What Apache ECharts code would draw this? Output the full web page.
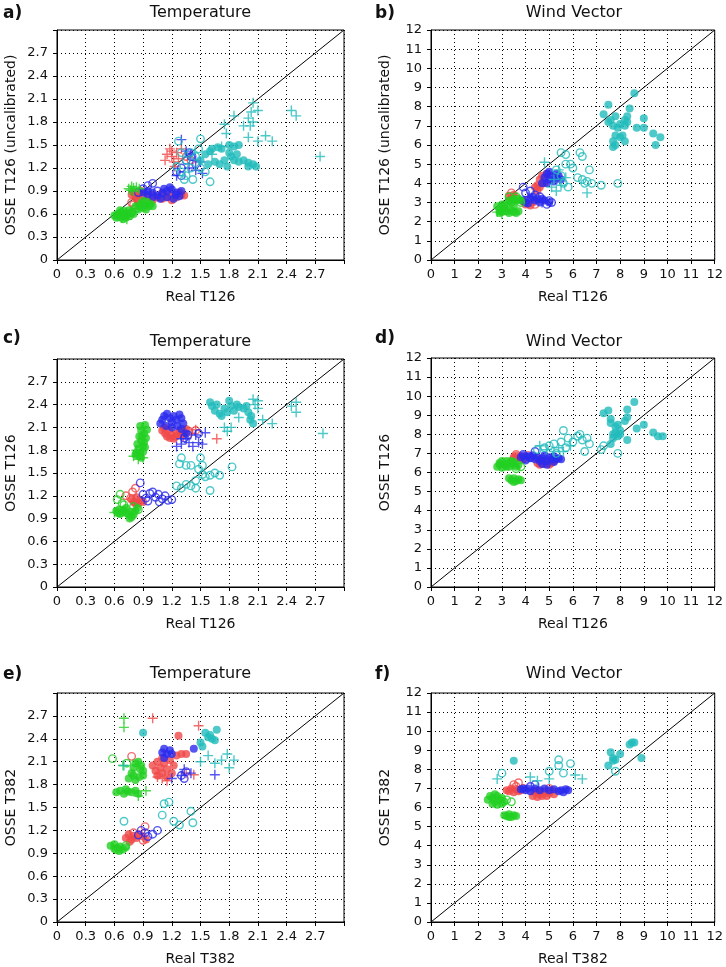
<!DOCTYPE html>
<html>
<head>
<meta charset="utf-8">
<script src="https://cdn.jsdelivr.net/npm/echarts@6/dist/echarts.min.js"></script>
<style>
html,body{margin:0;padding:0;background:#fff;}
#chart{width:726px;height:967px;}
</style>
</head>
<body>
<div id="chart"></div>
<script>
// ---------- tick / axis data ----------
const TEMP_RANGE = [0, 3];
const TEMP_STEP = 0.3;
const WIND_RANGE = [0, 12];
const WIND_STEP = 1;
const DIAG_TEMP = [[0, 0], [3, 3]];
const DIAG_WIND = [[0, 0], [12, 12]];
const PANEL_LETTERS = ['a)', 'b)', 'c)', 'd)', 'e)', 'f)'];
const PANEL_TITLES = ['Temperature', 'Wind Vector', 'Temperature', 'Wind Vector', 'Temperature', 'Wind Vector'];
const X_NAMES = ['Real T126', 'Real T126', 'Real T126', 'Real T126', 'Real T382', 'Real T382'];
const Y_NAMES = ['OSSE T126 (uncalibrated)', 'OSSE T126 (uncalibrated)', 'OSSE T126', 'OSSE T126', 'OSSE T382', 'OSSE T382'];

// ---------- panel a ----------
const a_red_dot = [[0.78,0.85],[0.8,0.88],[0.82,0.82],[0.85,0.85],[0.9,0.83],[0.95,0.82],[1.0,0.85],[1.05,0.82],[1.1,0.8],[1.15,0.82],[1.2,0.78],[1.25,0.82],[1.3,0.85],[1.33,0.84],[1.28,0.88],[1.1,0.88],[0.88,0.9],[0.84,0.78],[1.18,0.86],[1.0,0.78]];
const a_red_open = [[0.78,0.75],[0.8,0.72],[0.85,0.8],[1.4,1.3],[1.35,1.35]];
const a_red_plus = [[1.13,1.3],[1.15,1.38],[1.18,1.45],[1.2,1.35],[1.22,1.28],[1.25,1.4],[1.27,1.32],[1.2,1.42],[1.3,1.45],[1.23,1.22]];
const a_blue_dot = [[0.9,0.88],[0.95,0.85],[1.0,0.88],[1.05,0.84],[1.1,0.87],[1.15,0.9],[1.2,0.92],[1.25,0.88],[1.28,0.83],[1.22,0.8],[1.15,0.82],[1.08,0.8],[1.0,0.82],[1.18,0.95],[1.3,0.9],[0.95,0.9],[1.12,0.93],[1.24,0.85]];
const a_blue_open = [[0.85,0.88],[0.9,0.93],[0.95,0.97],[1.0,1.0],[1.05,0.9],[1.25,1.15],[1.3,1.2],[1.35,1.3],[1.4,1.35],[1.45,1.25],[1.38,1.4],[1.3,1.1]];
const a_blue_plus = [[1.3,1.57],[1.35,1.42],[1.4,1.38],[1.45,1.3],[1.52,1.13],[1.45,1.17],[1.25,1.1],[1.38,1.2],[1.5,1.28]];
const a_green_dot = [[0.6,0.58],[0.63,0.6],[0.65,0.56],[0.67,0.62],[0.7,0.58],[0.72,0.55],[0.74,0.6],[0.76,0.57],[0.78,0.62],[0.66,0.65],[0.7,0.64],[0.62,0.55],[0.75,0.65],[0.8,0.6],[0.69,0.53],[0.86,0.7],[0.88,0.74],[0.9,0.68],[0.92,0.72],[0.94,0.76],[0.96,0.7],[0.98,0.73],[0.9,0.77],[0.85,0.66],[0.93,0.66],[1.0,0.7],[0.82,0.7]];
const a_green_open = [[0.78,0.62],[0.82,0.67],[0.72,0.6]];
const a_green_plus = [[0.75,0.93],[0.78,0.96],[0.8,0.94],[0.83,0.95],[0.86,0.93],[0.8,0.9],[0.77,0.91],[0.68,0.55],[0.73,0.53]];
const a_cyan_dot = [[1.5,1.3],[1.55,1.38],[1.6,1.42],[1.62,1.45],[1.68,1.47],[1.72,1.45],[1.8,1.5],[1.85,1.48],[1.9,1.5],[1.8,1.4],[1.82,1.35],[1.85,1.3],[1.9,1.28],[1.95,1.3],[2.0,1.27],[2.05,1.25],[2.08,1.22],[1.75,1.3],[1.7,1.25],[1.65,1.28],[1.58,1.25],[1.88,1.38],[2.0,1.22],[1.78,1.22]];
const a_cyan_open = [[1.27,1.55],[1.3,1.4],[1.35,1.3],[1.3,1.15],[1.35,1.1],[1.4,1.2],[1.42,1.05],[1.5,1.58],[1.45,1.35],[1.5,1.2],[1.55,1.15],[1.6,1.02],[1.33,1.05],[1.25,1.22],[1.48,1.45],[1.4,1.4]];
const a_cyan_plus = [[1.72,1.48],[1.75,1.77],[1.77,1.65],[1.85,1.88],[1.95,1.75],[2.05,2.05],[2.03,1.93],[2.1,1.95],[2.0,1.85],[2.02,1.75],[2.0,1.6],[2.1,1.55],[2.18,1.62],[2.25,1.55],[2.45,1.95],[2.5,1.88],[2.75,1.35],[2.05,1.8],[1.62,1.38]];

// ---------- panel b ----------
const b_red_dot = [[3.3,3.35],[3.5,3.4],[3.4,3.2],[4.5,3.6],[4.5,3.9],[4.6,4.2],[4.7,4.4],[4.8,4.0],[4.6,3.8],[4.0,2.9],[4.2,2.85],[4.3,3.0],[3.9,3.05],[4.9,4.5],[4.4,3.8]];
const b_red_open = [[3.4,3.5],[3.6,3.2],[4.1,3.1],[4.4,2.9]];
const b_red_plus = [];
const b_blue_dot = [[4.7,4.0],[4.8,4.3],[4.9,4.5],[5.0,4.2],[5.1,4.4],[5.2,4.1],[5.3,4.3],[5.4,4.4],[5.5,4.2],[4.9,4.0],[5.0,4.6],[5.3,4.5],[3.9,3.1],[4.0,3.0],[4.2,3.2],[4.4,3.1],[4.5,3.2],[4.6,3.0],[4.8,3.1],[4.3,3.3],[4.1,2.95],[4.7,3.2],[5.0,3.0]];
const b_blue_open = [[3.9,3.8],[4.0,3.5],[4.2,3.6],[4.4,3.4],[5.0,3.1],[4.9,2.9],[5.1,3.0],[4.6,3.3]];
const b_blue_plus = [[4.1,3.3],[4.7,3.0]];
const b_green_dot = [[2.8,2.8],[2.9,2.6],[3.0,2.5],[3.1,2.7],[3.2,2.55],[3.3,2.45],[3.4,2.6],[3.5,2.5],[3.6,2.45],[3.7,2.55],[2.9,2.45],[3.0,2.9],[3.2,2.9],[3.4,3.0],[3.5,3.2],[3.6,3.1],[3.7,3.2],[3.8,3.1],[3.3,3.1],[3.5,2.8],[3.1,2.8]];
const b_green_open = [[3.3,3.3],[3.6,3.3],[3.8,3.0]];
const b_green_plus = [[2.8,2.5],[3.0,2.4]];
const b_cyan_dot = [[7.5,8.1],[7.3,7.6],[7.6,7.3],[7.7,7.0],[7.9,6.9],[7.8,6.5],[7.7,6.2],[7.7,5.9],[7.8,6.0],[8.0,6.4],[8.2,6.2],[8.1,6.5],[7.8,7.5],[8.0,7.1],[8.2,7.3],[8.3,7.5],[8.4,7.9],[8.3,7.2],[8.6,8.7],[8.7,6.9],[9.0,7.4],[9.0,6.9],[9.4,6.6],[9.5,6.0],[9.7,6.4],[8.2,7.0],[7.5,7.2]];
const b_cyan_open = [[5.5,5.6],[5.7,5.5],[5.7,5.0],[5.9,5.0],[6.0,4.8],[6.3,5.6],[6.4,5.4],[6.2,4.3],[6.5,4.0],[6.6,4.1],[6.7,4.7],[6.8,4.0],[7.2,3.9],[7.9,4.0],[5.3,4.7],[5.5,4.4],[5.6,4.0],[5.8,3.8],[6.4,4.2]];
const b_cyan_plus = [[4.8,5.1],[5.4,4.7],[5.5,3.9],[5.1,3.8],[5.3,3.6],[6.6,3.5],[5.7,4.3],[5.2,4.2]];

// ---------- panel c ----------
const c_red_dot = [[1.1,2.06],[1.13,2.02],[1.15,1.98],[1.18,1.96],[1.2,2.0],[1.22,1.95],[1.25,2.02],[1.28,2.05],[1.3,2.0],[1.33,2.04],[1.12,2.1],[1.17,2.07],[1.24,1.98],[1.35,2.08],[0.78,1.15],[0.8,1.12],[0.83,1.18],[0.85,1.1],[0.87,1.14],[0.9,1.12],[0.82,1.1]];
const c_red_open = [[0.72,1.2],[0.79,1.25],[0.82,1.3],[0.77,1.17],[1.38,2.05],[1.45,2.06]];
const c_red_plus = [[1.67,1.95],[1.45,2.07],[1.4,2.02],[1.32,1.98]];
const c_blue_dot = [[1.08,2.15],[1.1,2.2],[1.12,2.25],[1.15,2.28],[1.18,2.22],[1.2,2.17],[1.22,2.25],[1.25,2.2],[1.28,2.27],[1.3,2.22],[1.32,2.15],[1.14,2.12],[1.26,2.12],[1.2,2.1],[1.3,2.08],[1.35,2.02]];
const c_blue_open = [[0.87,1.37],[0.9,1.22],[0.93,1.17],[0.97,1.23],[1.0,1.25],[1.03,1.18],[1.06,1.22],[1.1,1.16],[1.13,1.2],[1.16,1.14],[1.2,1.15],[0.95,1.13],[1.07,1.12],[1.37,2.0],[1.48,2.02],[1.33,1.96]];
const c_blue_plus = [[1.25,1.85],[1.3,1.88],[1.35,1.95],[1.42,1.85],[1.48,1.9],[1.52,1.88],[1.45,2.0],[1.55,2.03],[1.38,1.9],[1.3,1.95]];
const c_green_dot = [[0.87,2.12],[0.92,2.13],[0.88,2.06],[0.91,2.02],[0.86,1.98],[0.93,1.96],[0.88,1.92],[0.9,1.86],[0.85,1.82],[0.87,1.77],[0.82,1.74],[0.86,1.72],[0.9,1.78],[0.94,2.07],[0.91,1.9],[0.84,1.88],[0.89,1.98],[0.83,1.76],[0.92,1.84],[0.88,1.7],[0.62,1.0],[0.65,1.02],[0.68,0.98],[0.7,1.01],[0.73,0.97],[0.75,0.95],[0.78,0.92],[0.8,0.95],[0.82,1.0],[0.66,0.96],[0.72,1.04],[0.77,0.99],[0.64,0.97],[0.76,0.9],[0.84,1.04]];
const c_green_open = [[0.66,1.22],[0.63,1.15],[0.68,1.1],[0.8,1.06],[0.85,1.02],[0.7,1.08]];
const c_green_plus = [[0.8,1.72],[0.85,1.68],[0.9,1.7],[0.83,1.8],[0.6,0.98]];
const c_cyan_dot = [[1.6,2.43],[1.62,2.38],[1.65,2.32],[1.7,2.28],[1.75,2.35],[1.8,2.45],[1.82,2.38],[1.85,2.32],[1.9,2.37],[1.95,2.35],[2.0,2.3],[2.02,2.2],[2.05,2.15],[1.72,2.25],[1.88,2.4],[1.67,2.4],[1.78,2.3],[1.98,2.38],[2.03,2.25]];
const c_cyan_open = [[1.3,1.7],[1.28,1.62],[1.35,1.6],[1.4,1.6],[1.5,1.7],[1.52,1.6],[1.48,1.55],[1.52,1.48],[1.55,1.45],[1.6,1.47],[1.65,1.5],[1.7,1.47],[1.83,1.58],[1.45,1.4],[1.35,1.35],[1.4,1.33],[1.25,1.33],[1.3,1.3],[1.6,1.27],[1.45,1.3]];
const c_cyan_plus = [[1.75,2.1],[1.78,2.05],[1.82,2.1],[1.9,2.23],[2.05,2.47],[2.1,2.45],[2.1,2.35],[2.15,2.2],[2.25,2.15],[2.45,2.38],[2.5,2.43],[2.5,2.3],[2.78,2.02],[2.07,2.4]];

// ---------- panel d ----------
const d_red_dot = [[3.5,6.8],[3.6,6.9],[3.7,6.75],[3.8,6.85],[3.9,6.7],[4.5,6.5],[4.6,6.4],[4.7,6.6],[4.8,6.45],[4.9,6.55],[5.0,6.4],[5.1,6.5],[5.2,6.6],[4.6,6.7]];
const d_red_open = [[3.6,6.95],[3.8,6.75],[3.5,6.7],[4.1,6.9]];
const d_red_plus = [];
const d_blue_dot = [[3.8,6.8],[3.9,6.9],[4.0,6.7],[4.1,6.85],[4.2,6.75],[4.3,6.9],[4.4,6.7],[4.5,6.8],[4.6,6.6],[4.7,6.75],[4.8,6.9],[4.9,6.6],[5.0,6.8],[5.1,6.7],[5.2,6.85],[5.3,6.7],[5.4,6.75],[5.5,6.7],[4.7,6.45],[4.9,6.4],[5.2,6.55]];
const d_blue_open = [[4.4,7.1],[3.9,6.95],[4.2,6.8],[4.0,6.65]];
const d_blue_plus = [];
const d_green_dot = [[2.8,6.3],[2.9,6.5],[3.0,6.6],[3.1,6.4],[3.2,6.3],[3.3,6.5],[3.4,6.6],[3.5,6.4],[3.6,6.3],[3.7,6.4],[3.0,6.25],[3.3,6.3],[2.9,6.4],[3.2,6.6],[3.5,6.55],[3.4,5.6],[3.5,5.7],[3.6,5.55],[3.7,5.65],[3.3,5.7],[3.5,5.5],[3.8,5.6]];
const d_green_open = [[3.8,6.3],[3.6,6.2]];
const d_green_plus = [];
const d_cyan_dot = [[7.3,9.1],[7.5,9.25],[7.6,8.8],[7.6,8.6],[7.8,8.4],[7.8,8.1],[7.7,7.8],[7.6,7.5],[8.0,8.0],[8.0,8.2],[8.2,8.7],[8.3,8.9],[8.3,9.3],[8.6,9.7],[8.3,7.7],[8.7,8.3],[9.0,8.5],[9.4,8.1],[9.6,7.9],[9.8,7.9],[7.9,8.5],[7.7,8.0],[7.9,7.9]];
const d_cyan_open = [[4.5,7.2],[4.8,7.3],[5.0,7.4],[5.2,7.5],[5.5,7.6],[5.6,8.2],[5.8,7.8],[6.0,7.6],[6.2,7.9],[6.4,7.7],[6.6,7.8],[6.7,7.5],[6.5,7.1],[7.2,7.2],[7.3,7.4],[7.9,7.0],[5.3,7.0],[5.7,7.3],[6.3,8.0]];
const d_cyan_plus = [[4.6,7.4],[4.9,7.2],[5.2,7.1],[5.6,7.1],[5.9,7.4],[5.4,7.3]];

// ---------- panel e ----------
const e_red_dot = [[1.0,2.05],[1.03,1.98],[1.05,2.1],[1.08,2.02],[1.1,1.95],[1.12,2.08],[1.15,2.0],[1.18,2.12],[1.2,1.95],[1.22,2.05],[1.05,1.92],[1.1,2.15],[1.25,2.18],[1.3,2.2],[1.35,2.2],[1.27,2.44],[1.15,1.9],[0.72,1.1],[0.75,1.15],[0.78,1.08],[0.8,1.13],[0.83,1.1],[0.86,1.15],[0.9,1.12],[0.93,1.08],[0.76,1.05]];
const e_red_open = [[0.78,2.17],[0.92,1.25],[0.9,1.07],[0.8,1.17]];
const e_red_plus = [[1.0,2.67],[1.48,2.57],[1.43,1.93],[1.35,1.95],[1.05,1.9],[1.1,1.88],[1.15,1.85]];
const e_blue_dot = [[1.1,2.22],[1.12,2.27],[1.15,2.2],[1.18,2.25],[1.12,2.15],[1.2,2.2],[1.43,2.27]];
const e_blue_open = [[0.85,1.14],[0.88,1.2],[0.92,1.17],[1.0,1.15],[1.05,1.2],[0.95,1.12],[1.3,1.92],[1.33,1.88],[1.35,1.97]];
const e_blue_plus = [[1.2,1.88],[1.33,2.0],[1.4,1.95],[1.65,1.93],[1.3,1.92]];
const e_green_dot = [[0.75,1.88],[0.78,1.95],[0.8,2.02],[0.82,2.08],[0.85,2.1],[0.88,2.05],[0.9,1.98],[0.86,1.9],[0.82,1.86],[0.9,1.92],[0.8,1.92],[0.87,2.0],[0.62,1.7],[0.66,1.72],[0.7,1.68],[0.74,1.71],[0.78,1.7],[0.82,1.72],[0.85,1.68],[0.72,1.74],[0.56,1.0],[0.6,1.02],[0.63,0.97],[0.66,0.99],[0.69,0.95],[0.72,0.98],[0.65,0.93],[0.6,0.96]];
const e_green_open = [[0.58,2.14],[0.73,2.08],[0.62,0.95],[0.72,1.0]];
const e_green_plus = [[0.7,2.67],[0.7,2.55],[0.85,1.65],[0.93,1.72],[0.69,2.05]];
const e_cyan_dot = [[0.9,2.48],[1.5,2.35],[1.55,2.48],[1.58,2.42],[1.62,2.4],[1.65,2.38],[1.67,2.52],[1.6,2.45],[1.52,2.3]];
const e_cyan_open = [[0.7,1.32],[1.1,1.4],[1.12,1.55],[1.17,1.57],[1.22,1.32],[1.28,1.27],[1.4,1.45],[1.42,1.3]];
const e_cyan_plus = [[1.5,2.1],[1.58,2.18],[1.65,2.08],[1.72,2.12],[1.78,2.2],[1.8,2.02],[1.85,2.12],[0.7,2.05]];

// ---------- panel f ----------
const f_red_dot = [[3.2,6.9],[3.3,6.85],[3.4,7.0],[3.5,6.8],[3.6,6.95],[3.7,6.85],[3.8,6.9],[4.3,6.6],[4.4,6.8],[4.5,6.55],[4.6,6.7],[4.7,6.6],[4.8,6.85],[4.9,6.6],[5.0,6.75],[5.1,6.9],[5.2,6.7],[4.5,6.9]];
const f_red_open = [[3.5,7.2],[3.7,7.3],[3.9,7.0],[5.0,7.0],[3.6,7.1]];
const f_red_plus = [];
const f_blue_dot = [[3.8,6.95],[3.9,7.0],[4.0,6.9],[4.1,7.0],[4.2,6.85],[4.4,7.0],[4.6,6.9],[4.8,7.0],[5.0,6.9],[5.2,6.95],[5.4,6.85],[5.5,6.9],[5.6,6.8],[5.8,6.9],[5.7,6.95]];
const f_blue_open = [[4.2,7.1],[4.4,7.2]];
const f_blue_plus = [];
const f_green_dot = [[2.4,6.4],[2.5,6.6],[2.6,6.5],[2.7,6.3],[2.8,6.6],[2.9,6.4],[3.0,6.5],[3.1,6.3],[2.6,6.2],[2.8,6.15],[3.0,6.2],[2.7,6.7],[3.1,5.6],[3.2,5.55],[3.3,5.65],[3.4,5.5],[3.5,5.6],[3.6,5.55],[3.3,5.5]];
const f_green_open = [[3.2,6.4],[3.4,6.3]];
const f_green_plus = [];
const f_cyan_dot = [[3.5,8.45],[7.5,8.2],[7.6,8.9],[7.7,8.6],[7.8,8.5],[8.0,8.8],[8.4,9.3],[8.5,9.4],[8.6,9.4],[8.9,8.6],[7.7,8.45]];
const f_cyan_open = [[3.0,7.8],[5.0,7.9],[5.4,8.5],[5.4,8.2],[5.6,7.8],[5.9,8.3],[7.8,7.9]];
const f_cyan_plus = [[2.8,7.5],[4.2,7.6],[4.5,7.4],[5.0,7.5],[6.1,7.7],[6.4,7.5]];

// ---------- assembly ----------
const PANEL_DATA = [
  {red:[a_red_dot,a_red_open,a_red_plus], blue:[a_blue_dot,a_blue_open,a_blue_plus], green:[a_green_dot,a_green_open,a_green_plus], cyan:[a_cyan_dot,a_cyan_open,a_cyan_plus]},
  {red:[b_red_dot,b_red_open,b_red_plus], blue:[b_blue_dot,b_blue_open,b_blue_plus], green:[b_green_dot,b_green_open,b_green_plus], cyan:[b_cyan_dot,b_cyan_open,b_cyan_plus]},
  {red:[c_red_dot,c_red_open,c_red_plus], blue:[c_blue_dot,c_blue_open,c_blue_plus], green:[c_green_dot,c_green_open,c_green_plus], cyan:[c_cyan_dot,c_cyan_open,c_cyan_plus]},
  {red:[d_red_dot,d_red_open,d_red_plus], blue:[d_blue_dot,d_blue_open,d_blue_plus], green:[d_green_dot,d_green_open,d_green_plus], cyan:[d_cyan_dot,d_cyan_open,d_cyan_plus]},
  {red:[e_red_dot,e_red_open,e_red_plus], blue:[e_blue_dot,e_blue_open,e_blue_plus], green:[e_green_dot,e_green_open,e_green_plus], cyan:[e_cyan_dot,e_cyan_open,e_cyan_plus]},
  {red:[f_red_dot,f_red_open,f_red_plus], blue:[f_blue_dot,f_blue_open,f_blue_plus], green:[f_green_dot,f_green_open,f_green_plus], cyan:[f_cyan_dot,f_cyan_open,f_cyan_plus]}
];
const COLORS = {red:'#f04848', blue:'#2a2aee', green:'#22d022', cyan:'#22bcbc'};
const DRAW_ORDER = ['red','blue','green','cyan'];
const PLUS = 'path://M-0.14,-1H0.14V-0.14H1V0.14H0.14V1H-0.14V0.14H-1V-0.14H-0.14Z';

const GRIDS = [
  {left:57, top:30, width:287, height:230},
  {left:431, top:30, width:286, height:230},
  {left:57, top:359, width:287, height:228},
  {left:431, top:358, width:286, height:229},
  {left:57, top:693, width:287, height:229},
  {left:431, top:693, width:286, height:229}
];

const FONT = 'DejaVu Sans';
function fmtTemp(v){ return v > 2.95 ? '' : String(Math.round(v*10)/10); }
function fmtWind(v){ return String(Math.round(v)); }

function axis(i, isX){
  const wind = i % 2 === 1;
  const rng = wind ? WIND_RANGE : TEMP_RANGE;
  return {
    type:'value', gridIndex:i, min:rng[0], max:rng[1], interval: wind ? WIND_STEP : TEMP_STEP,
    name: isX ? X_NAMES[i] : Y_NAMES[i], nameLocation:'middle', nameGap: isX ? 30 : 39,
    nameTextStyle:{color:'#111', fontSize:14, fontFamily:FONT},
    axisLine:{show:true, lineStyle:{color:'#000', width:1}},
    axisTick:{show:true, inside:false, length:4, lineStyle:{color:'#000'}},
    axisLabel:{color:'#111', fontSize:13, fontFamily:FONT, margin: isX ? 8 : 9, formatter: wind ? fmtWind : fmtTemp, showMaxLabel:true},
    splitLine:{show:true, lineStyle:{color:'#000', type:[1,3], width:1}}
  };
}

const xAxes = [], yAxes = [], series = [], graphics = [];
GRIDS.forEach((g, i) => {
  xAxes.push(axis(i, true));
  yAxes.push(axis(i, false));
  series.push({type:'line', xAxisIndex:i, yAxisIndex:i, data: i%2 ? DIAG_WIND : DIAG_TEMP, symbol:'none', silent:true,
    lineStyle:{color:'#000', width:1}, z:1});
  DRAW_ORDER.forEach(c => {
    const [dots, opens, pluses] = PANEL_DATA[i][c];
    series.push({type:'scatter', xAxisIndex:i, yAxisIndex:i, data:dots, symbol:'circle', symbolSize:8,
      itemStyle:{color:COLORS[c]}, z:3});
    series.push({type:'scatter', xAxisIndex:i, yAxisIndex:i, data:opens, symbol:'circle', symbolSize:7.5,
      itemStyle:{color:'rgba(0,0,0,0)', borderColor:COLORS[c], borderWidth:1.4}, z:3});
    series.push({type:'scatter', xAxisIndex:i, yAxisIndex:i, data:pluses, symbol:PLUS, symbolSize:10,
      itemStyle:{color:COLORS[c]}, z:3});
  });
  const titleY = i < 2 ? 13 : (i < 4 ? 342 : 674);
  const letterY = i < 2 ? 14 : (i < 4 ? 339 : 675);
  graphics.push({type:'text', x: g.left + g.width/2, y: titleY, style:{text:PANEL_TITLES[i], fill:'#111', font:'16px ' + FONT, textAlign:'center', textVerticalAlign:'middle'}});
  graphics.push({type:'text', x: i%2 ? 375 : 3, y: letterY, style:{text:PANEL_LETTERS[i], fill:'#111', font:'bold 17px ' + FONT, textAlign:'left', textVerticalAlign:'middle'}});
});

const chart = echarts.init(document.getElementById('chart'), null, {renderer:'canvas'});
chart.setOption({
  backgroundColor:'#fff',
  animation:false,
  grid: GRIDS.map(g => Object.assign({show:true, borderColor:'#000', borderWidth:1, backgroundColor:'transparent'}, g)),
  xAxis: xAxes,
  yAxis: yAxes,
  series: series,
  graphic: graphics
});
</script>
</body>
</html>
